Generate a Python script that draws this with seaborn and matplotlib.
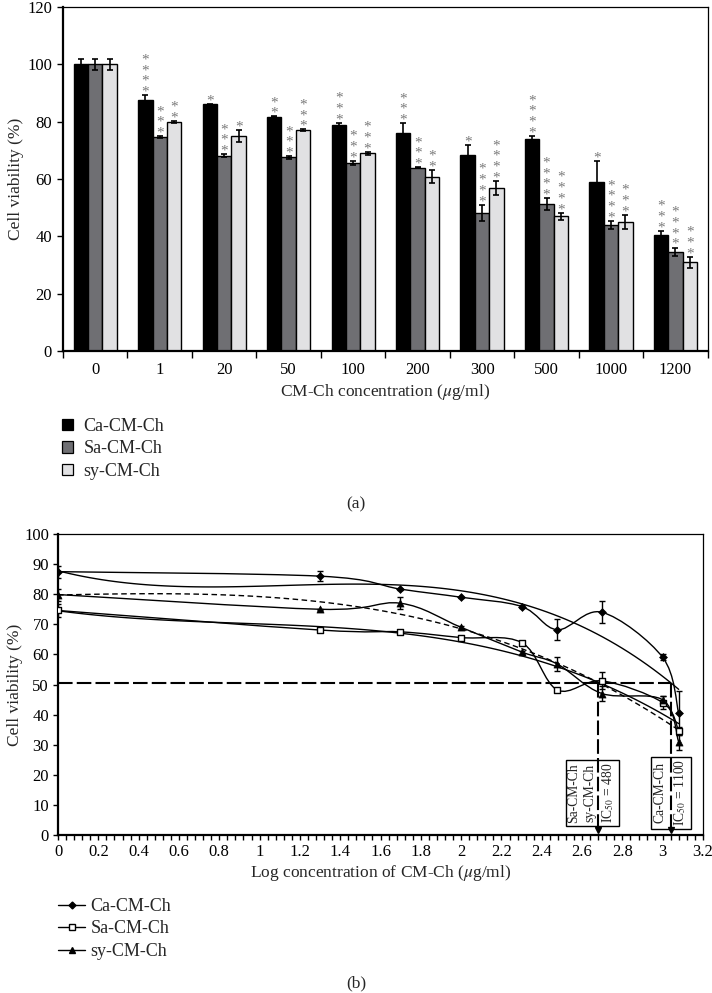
import numpy as np
import pandas as pd
import matplotlib
matplotlib.use("Agg")
import matplotlib.pyplot as plt
import seaborn as sns
from matplotlib.path import Path
from matplotlib.patches import PathPatch, Patch
from matplotlib.lines import Line2D

# ============================================================
# Data
# ============================================================

conc_labels = ["0", "1", "20", "50", "100", "200", "300", "500", "1000", "1200"]
conc_values = [0, 1, 20, 50, 100, 200, 300, 500, 1000, 1200]
series = ["Ca-CM-Ch", "Sa-CM-Ch", "sy-CM-Ch"]

ca_mean = [100, 87.5, 86.0, 81.7, 79.0, 75.9, 68.2, 74.0, 59.0, 40.5]
sa_mean = [100, 74.6, 68.1, 67.5, 65.6, 63.9, 48.2, 51.2, 44.0, 34.6]
sy_mean = [100, 79.9, 75.0, 77.0, 69.0, 60.8, 56.8, 47.0, 44.9, 30.9]

ca_err = [2.0, 1.7, 0.2, 0.1, 0.5, 3.5, 3.6, 1.0, 7.3, 1.5]
sa_err = [2.0, 0.3, 0.5, 0.4, 0.7, 0.2, 2.8, 2.1, 1.3, 1.5]
sy_err = [2.0, 0.2, 2.0, 0.3, 0.5, 2.3, 2.5, 1.2, 2.5, 1.9]

# number of significance stars above each bar
ca_stars = [0, 4, 1, 2, 3, 3, 1, 4, 1, 3]
sa_stars = [0, 3, 3, 3, 3, 3, 4, 4, 4, 4]
sy_stars = [0, 2, 1, 3, 3, 2, 4, 4, 3, 3]

# error bars as drawn in panel (b)
ca_err_b = [2.0, 1.7, 0.2, 0.1, 0.5, 3.5, 3.6, 1.0, 7.3]
sa_err_b = [2.0, 0.3, 0.5, 0.4, 0.7, 0.2, 2.8, 2.1, 1.3]
sy_err_b = [2.0, 0.2, 2.0, 0.3, 0.5, 2.3, 2.5, 1.2, 2.5]

ic50_level = 50.5
ic50_values = [480, 1100]
ic50_texts = ["Sa-CM-Ch\nsy-CM-Ch\nIC$_{50}$ = 480", "Ca-CM-Ch\nIC$_{50}$ = 1100"]

bar_colors = {"Ca-CM-Ch": "#000000", "Sa-CM-Ch": "#6f6f73", "sy-CM-Ch": "#e1e1e3"}
star_color = "#7a7a7a"

# ============================================================
# Style
# ============================================================

sns.set_style("ticks")
plt.rcParams["font.family"] = ["Liberation Serif", "DejaVu Serif"]
plt.rcParams["mathtext.fontset"] = "stix"
plt.rcParams["font.size"] = 12
plt.rcParams["axes.edgecolor"] = "black"
plt.rcParams["xtick.color"] = "black"
plt.rcParams["ytick.color"] = "black"

fig = plt.figure(figsize=(7.12, 9.93), dpi=100)
ax1 = fig.add_axes([0.0885, 0.6465, 0.9055, 0.3465])
ax2 = fig.add_axes([0.0815, 0.1591, 0.9059, 0.3031])

# ============================================================
# (a) Bar chart
# ============================================================

bar_df = pd.DataFrame({
    "conc": conc_labels * 3,
    "viability": ca_mean + sa_mean + sy_mean,
    "series": np.repeat(series, len(conc_labels)),
})

sns.barplot(data=bar_df, x="conc", y="viability", hue="series", order=conc_labels,
            hue_order=series, palette=bar_colors, saturation=1, edgecolor="black",
            linewidth=1, width=0.67, errorbar=None, legend=False, ax=ax1)

errs = [ca_err, sa_err, sy_err]
stars = [ca_stars, sa_stars, sy_stars]
for cont, err, nstar in zip(ax1.containers, errs, stars):
    xs = [p.get_x() + p.get_width() / 2 for p in cont.patches]
    hs = [p.get_height() for p in cont.patches]
    ax1.errorbar(xs, hs, yerr=err, fmt="none", ecolor="black", elinewidth=1.2,
                 capsize=2.3, capthick=1.2, zorder=3)
    for x, h, e, n in zip(xs, hs, err, nstar):
        if n == 0:
            continue
        # one stacked column of asterisks per bar
        ax1.annotate("\n".join(["*"] * n), xy=(x, h + e), xytext=(0, -2.5),
                     textcoords="offset points", ha="center", va="bottom",
                     fontsize=11, color=star_color, linespacing=0.78)

ax1.set_xlim(-0.5, len(conc_labels) - 0.5)
ax1.set_ylim(0, 120)
ax1.set_yticks(np.arange(0, 121, 20))
ax1.set_xticks(np.arange(-0.5, len(conc_labels), 1), minor=True)
ax1.tick_params(axis="x", which="major", length=0, pad=8, labelsize=12)
ax1.tick_params(axis="x", which="minor", length=5, width=1, direction="out")
ax1.tick_params(axis="y", length=4, width=1, direction="out", pad=4, labelsize=12)
ax1.set_xlabel(r"CM-Ch concentration ($\mu$g/ml)", labelpad=3, fontsize=12.5)
ax1.set_ylabel("Cell viability (%)", labelpad=2, fontsize=12.5)
for side in ["left", "bottom"]:
    ax1.spines[side].set_linewidth(1.6)
for side in ["top", "right"]:
    ax1.spines[side].set_visible(True)
    ax1.spines[side].set_linewidth(0.9)

bar_handles = [Patch(facecolor=bar_colors[s], edgecolor="black", linewidth=0.9) for s in series]
fig.legend(bar_handles, series, loc="upper left", bbox_to_anchor=(62 / 712, 1 - 418 / 993),
           frameon=False, borderpad=0, borderaxespad=0, handlelength=0.6,
           handleheight=0.6, handletextpad=0.6, labelspacing=0.3, fontsize=13)

fig.text(0.5, 1 - 504 / 993, "(a)", ha="center", va="center", fontsize=12.5)

# ============================================================
# (b) Log concentration curves
# ============================================================


def smooth_path(x, y):
    # Excel-style smoothed line: Catmull-Rom segments as cubic Bezier
    pts = np.column_stack([x, y])
    n = len(pts)
    verts = [pts[0]]
    codes = [Path.MOVETO]
    for i in range(n - 1):
        p0 = pts[max(i - 1, 0)]
        p1 = pts[i]
        p2 = pts[i + 1]
        p3 = pts[min(i + 2, n - 1)]
        verts += [p1 + (p2 - p0) / 6, p2 - (p3 - p1) / 6, p2]
        codes += [Path.CURVE4] * 3
    return Path(verts, codes)


log_conc = np.log10(conc_values[1:])
ca_b = ca_mean[1:]
sa_b = sa_mean[1:]
sy_b = sy_mean[1:]

for vals in [ca_b, sa_b, sy_b]:
    ax2.add_patch(PathPatch(smooth_path(log_conc, vals), fill=False, edgecolor="black",
                            linewidth=1.0, zorder=2))

# third order trendlines
sns.regplot(x=log_conc, y=ca_b, order=3, ci=None, scatter=False, truncate=True,
            color="black", line_kws=dict(lw=1.0), ax=ax2)
sns.regplot(x=log_conc, y=sa_b, order=3, ci=None, scatter=False, truncate=True,
            color="black", line_kws=dict(lw=1.0), ax=ax2)
sns.regplot(x=log_conc, y=sy_b, order=3, ci=None, scatter=False, truncate=True,
            color="black", line_kws=dict(lw=1.0, ls=(0, (4, 2.5))), ax=ax2)

for vals, err in zip([ca_b, sa_b, sy_b], [ca_err_b, sa_err_b, sy_err_b]):
    ax2.errorbar(log_conc, vals, yerr=err, fmt="none", ecolor="black", elinewidth=1.0,
                 capsize=2.3, capthick=1.0, zorder=3)

sns.scatterplot(x=log_conc, y=ca_b, marker="D", s=16, color="black", edgecolor="black",
                linewidth=0.5, zorder=4, ax=ax2)
sns.scatterplot(x=log_conc, y=sa_b, marker="s", s=17, color="white", edgecolor="black",
                linewidth=1.0, zorder=4, ax=ax2)
sns.scatterplot(x=log_conc, y=sy_b, marker="^", s=26, color="black", edgecolor="black",
                linewidth=0.5, zorder=4, ax=ax2)

# IC50 guide lines
ic50_log = np.log10(ic50_values)
ax2.plot([0, ic50_log.max()], [ic50_level, ic50_level], color="black", lw=1.5,
         ls=(0, (7, 2)), zorder=2.5)
for xv in ic50_log:
    ax2.plot([xv, xv], [ic50_level, 1.5], color="black", lw=1.5, ls=(0, (7, 2)), zorder=2.5)
    ax2.plot([xv], [1.5], marker="v", ms=5, color="black", clip_on=False, zorder=5)

ax2.text(2.648, 14, ic50_texts[0], rotation=90, ha="center", va="center", fontsize=9.8,
         linespacing=1.3, multialignment="center",
         bbox=dict(boxstyle="square,pad=0.2", fc="none", ec="black", lw=1.0))
ax2.text(3.04, 14, ic50_texts[1], rotation=90, ha="center", va="center", fontsize=9.8,
         linespacing=1.55, multialignment="center",
         bbox=dict(boxstyle="square,pad=0.2", fc="none", ec="black", lw=1.0))

ax2.set_xlim(0, 3.2)
ax2.set_ylim(0, 100)
xt = np.round(np.arange(0, 3.21, 0.2), 1)
ax2.set_xticks(xt)
ax2.set_xticklabels([f"{v:g}" for v in xt])
ax2.set_xticks(np.arange(0, 3.21, 0.04), minor=True)
ax2.set_yticks(np.arange(0, 101, 10))
ax2.tick_params(axis="x", which="both", length=3.5, width=1, direction="out", pad=3,
                labelsize=12)
ax2.tick_params(axis="y", length=3.5, width=1, direction="out", pad=3, labelsize=12)
ax2.set_xlabel(r"Log concentration of CM-Ch ($\mu$g/ml)", labelpad=2, fontsize=12.5)
ax2.set_ylabel("Cell viability (%)", labelpad=1, fontsize=12.5)
for side in ["left", "bottom"]:
    ax2.spines[side].set_linewidth(1.6)
for side in ["top", "right"]:
    ax2.spines[side].set_visible(True)
    ax2.spines[side].set_linewidth(0.9)

line_handles = [
    Line2D([], [], color="black", lw=1, marker="D", ms=3.5),
    Line2D([], [], color="black", lw=1, marker="s", ms=4, mfc="white"),
    Line2D([], [], color="black", lw=1, marker="^", ms=5),
]
fig.legend(line_handles, series, loc="upper left", bbox_to_anchor=(58 / 712, 1 - 898 / 993),
           frameon=False, borderpad=0, borderaxespad=0, handlelength=1.5,
           handletextpad=0.3, labelspacing=0.3, fontsize=13)

fig.text(0.5, 1 - 983 / 993, "(b)", ha="center", va="center", fontsize=12.5)

fig.savefig("out.png", dpi=100)
